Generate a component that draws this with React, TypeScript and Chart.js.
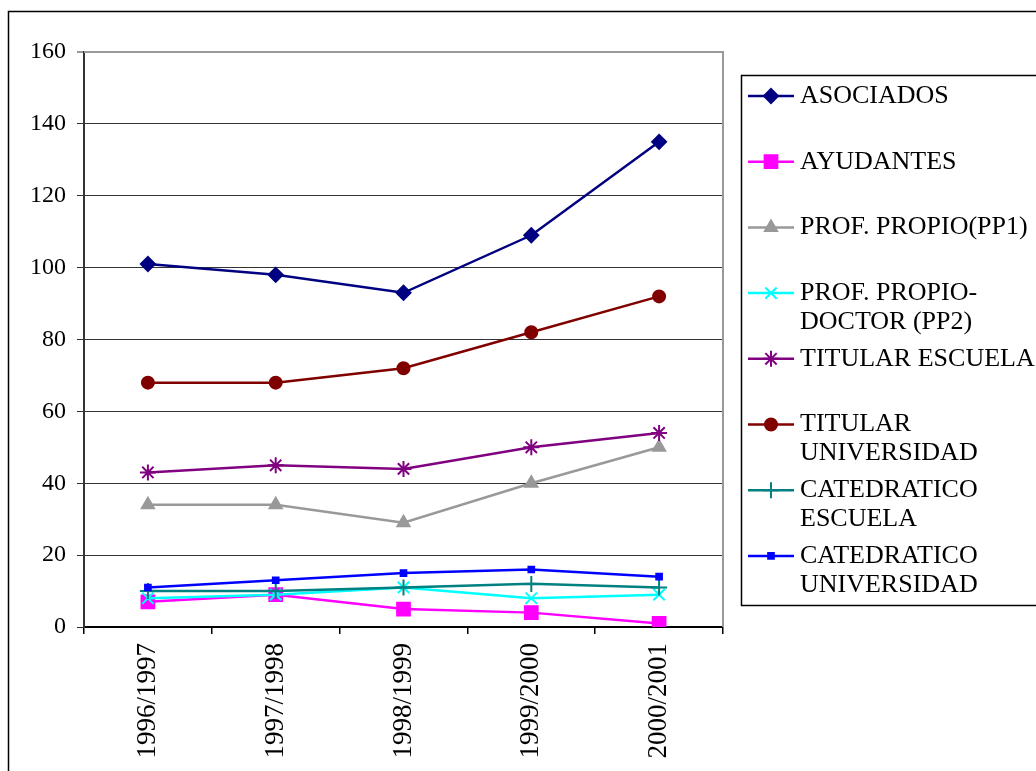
import React, { useEffect, useRef } from "react";
import { Chart, registerables } from "chart.js";
import { drawPoint } from "chart.js/helpers";

Chart.register(...registerables);

const categories = ["1996/1997", "1997/1998", "1998/1999", "1999/2000", "2000/2001"];
const asociados = [101, 98, 93, 109, 135];
const ayudantes = [7, 9, 5, 4, 1];
const profPropioPP1 = [34, 34, 29, 40, 50];
const profPropioDoctorPP2 = [8, 9, 11, 8, 9];
const titularEscuela = [43, 45, 44, 50, 54];
const titularUniversidad = [68, 68, 72, 82, 92];
const catedraticoEscuela = [10, 10, 11, 12, 11];
const catedraticoUniversidad = [11, 13, 15, 16, 14];

const seriesLabels = [
  "ASOCIADOS",
  "AYUDANTES",
  "PROF. PROPIO(PP1)",
  "PROF. PROPIO-DOCTOR (PP2)",
  "TITULAR ESCUELA",
  "TITULAR UNIVERSIDAD",
  "CATEDRATICO ESCUELA",
  "CATEDRATICO UNIVERSIDAD",
];
const legendLines = [
  ["ASOCIADOS"],
  ["AYUDANTES"],
  ["PROF. PROPIO(PP1)"],
  ["PROF. PROPIO-", "DOCTOR (PP2)"],
  ["TITULAR ESCUELA"],
  ["TITULAR", "UNIVERSIDAD"],
  ["CATEDRATICO", "ESCUELA"],
  ["CATEDRATICO", "UNIVERSIDAD"],
];
const yMin = 0;
const yMax = 160;
const yStep = 20;

const FONT = "'Liberation Serif', 'DejaVu Serif', serif";

const styles = [
  { color: "#000080", point: "rectRot", radius: 7 },
  { color: "#FF00FF", point: "rect", radius: 9 },
  { color: "#999999", point: "triangle", radius: 7 },
  { color: "#00FFFF", point: "crossRot", radius: 8 },
  { color: "#800080", point: "star", radius: 8 },
  { color: "#800000", point: "circle", radius: 6 },
  { color: "#008080", point: "cross", radius: 8 },
  { color: "#0000FF", point: "rect", radius: 4 },
];

const framePlugin = {
  id: "frame",
  beforeDraw(chart: any) {
    const ctx = chart.ctx;
    ctx.save();
    ctx.fillStyle = "#ffffff";
    ctx.fillRect(0, 0, chart.width, chart.height);
    ctx.strokeStyle = "#000000";
    ctx.lineWidth = 1.5;
    ctx.beginPath();
    ctx.moveTo(8.5, chart.height + 5);
    ctx.lineTo(8.5, 11.5);
    ctx.lineTo(chart.width + 5, 11.5);
    ctx.stroke();
    ctx.restore();
  },
  beforeDatasetsDraw(chart: any) {
    const ctx = chart.ctx;
    const a = chart.chartArea;
    ctx.save();
    ctx.strokeStyle = "#999999";
    ctx.lineWidth = 2;
    ctx.beginPath();
    ctx.moveTo(a.left, a.top);
    ctx.lineTo(a.right, a.top);
    ctx.lineTo(a.right, a.bottom);
    ctx.stroke();
    ctx.restore();
  },
  afterDraw(chart: any) {
    const ctx = chart.ctx;
    ctx.save();
    ctx.strokeStyle = "#000000";
    ctx.lineWidth = 1.5;
    ctx.strokeRect(741.5, 75.5, 400, 530);
    const top = 96;
    const gap = 65.7;
    chart.data.datasets.forEach((ds: any, i: number) => {
      const y = top + i * gap;
      ctx.strokeStyle = ds.borderColor;
      ctx.lineWidth = 2.5;
      ctx.beginPath();
      ctx.moveTo(748, y);
      ctx.lineTo(794, y);
      ctx.stroke();
      ctx.fillStyle = ds.pointBackgroundColor;
      ctx.strokeStyle = ds.pointBorderColor;
      ctx.lineWidth = 2;
      drawPoint(ctx, { pointStyle: ds.pointStyle, radius: ds.pointRadius, rotation: 0, borderWidth: 2 } as any, 771, y);
      ctx.fillStyle = "#000000";
      ctx.font = "26px " + FONT;
      ctx.textBaseline = "middle";
      ctx.textAlign = "left";
      legendLines[i].forEach((t, k) => {
        ctx.fillText(t, 800, y + k * 28.8);
      });
    });
    ctx.restore();
  },
};

const seriesData = [
  asociados,
  ayudantes,
  profPropioPP1,
  profPropioDoctorPP2,
  titularEscuela,
  titularUniversidad,
  catedraticoEscuela,
  catedraticoUniversidad,
];

export default function App() {
  const ref = useRef<HTMLCanvasElement | null>(null);
  useEffect(() => {
    if (!ref.current) return;
    Chart.defaults.font.family = FONT;
    const chart = new Chart(ref.current, {
      type: "line",
      data: {
        labels: categories,
        datasets: seriesData.map((d, i) => ({
          label: seriesLabels[i],
          data: d,
          borderColor: styles[i].color,
          backgroundColor: styles[i].color,
          pointBackgroundColor: styles[i].color,
          pointBorderColor: styles[i].color,
          pointStyle: styles[i].point as any,
          pointRadius: styles[i].radius,
          pointBorderWidth: 2,
          borderWidth: 2.5,
          tension: 0,
          fill: false,
          order: 8 - i,
        })),
      },
      options: {
        responsive: false,
        animation: false,
        devicePixelRatio: 1,
        layout: { padding: { left: 0, top: 52, right: 313, bottom: 0 } },
        plugins: { legend: { display: false }, tooltip: { enabled: false }, title: { display: false } },
        scales: {
          x: {
            type: "category",
            offset: true,
            grid: { offset: true, drawOnChartArea: false, tickLength: 7, color: "#000000", lineWidth: 1.5 },
            border: { display: true, color: "#000000", width: 2 },
            ticks: { maxRotation: 90, minRotation: 90, padding: 9, color: "#000000", font: { size: 27, family: FONT } },
            afterFit: (s: any) => {
              s.height = 144;
            },
          },
          y: {
            min: yMin,
            max: yMax,
            ticks: { stepSize: yStep, padding: 11, color: "#000000", font: { size: 24, family: FONT } },
            grid: {
              tickLength: 7,
              color: (c: any) => (c.tick && c.tick.value === yMax ? "#999999" : "#333333"),
              lineWidth: (c: any) => (c.tick && c.tick.value === yMax ? 2 : 1),
            },
            border: { display: true, color: "#333333", width: 2 },
            afterFit: (s: any) => {
              s.width = 84;
            },
          },
        },
      },
      plugins: [framePlugin],
    });
    return () => chart.destroy();
  }, []);
  return (
    <div style={{ position: "absolute", left: 0, top: 0, width: 1036, height: 771, overflow: "hidden" }}>
      <canvas ref={ref} width={1036} height={771} style={{ display: "block", width: 1036, height: 771 }} />
    </div>
  );
}
